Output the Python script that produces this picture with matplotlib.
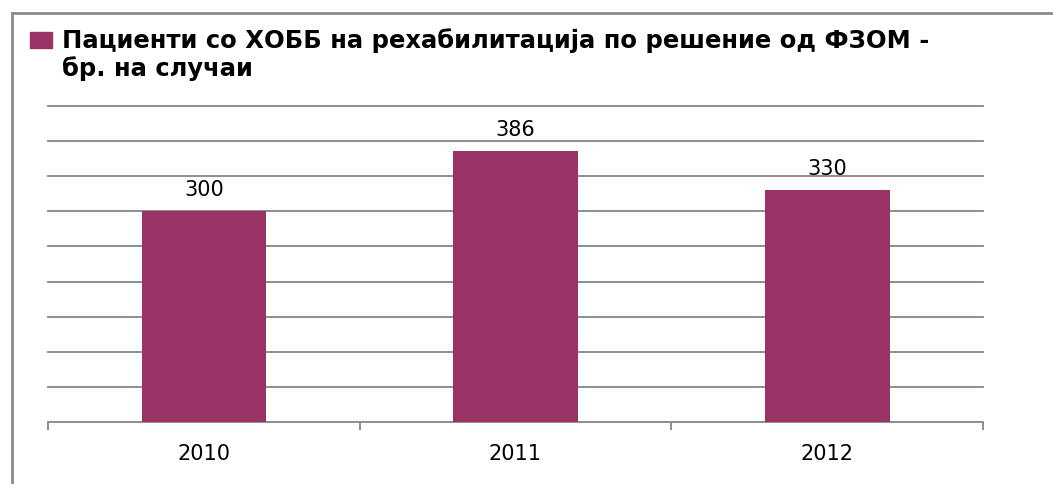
import matplotlib.pyplot as plt
from matplotlib.patches import Rectangle
from matplotlib.lines import Line2D

years = ["2010", "2011", "2012"]
cases = [300, 386, 330]
title_text = "Пациенти со ХОББ на рехабилитација по решение од ФЗОМ -\nбр. на случаи"

bar_color = "#993366"
grid_color = "#868686"

fig = plt.figure(figsize=(10.53, 4.84), dpi=100)
ax = fig.add_axes([48 / 1053, 62 / 484, 935 / 1053, 316 / 484])

x = list(range(len(years)))
bars = ax.bar(x, cases, width=0.4, color=bar_color, zorder=3)

ax.set_xlim(-0.5, len(years) - 0.5)
ax.set_ylim(0, 450)
ax.set_yticks(range(50, 451, 50))
ax.yaxis.grid(True, color=grid_color, linewidth=1.3, zorder=0)
for gl in ax.get_ygridlines():
    gl.set_clip_on(False)
ax.tick_params(axis="y", length=0, labelleft=False)

ax.set_xticks(x)
ax.set_xticklabels(years, fontsize=15)
ax.set_xticks([i - 0.5 for i in range(len(years) + 1)], minor=True)
ax.tick_params(axis="x", which="major", length=0, pad=16)
ax.tick_params(axis="x", which="minor", length=6, width=1.3, color=grid_color, direction="out")

for side in ["top", "right", "left"]:
    ax.spines[side].set_visible(False)
ax.spines["bottom"].set_color(grid_color)
ax.spines["bottom"].set_linewidth(1.3)

for xi, v in zip(x, cases):
    ax.annotate(str(v), (xi, v), xytext=(0, 8), textcoords="offset points",
                ha="center", va="bottom", fontsize=15)

# outer chart frame
fig.add_artist(Line2D([12 / 1053, 12 / 1053], [0, 1 - 13 / 484], transform=fig.transFigure,
                      color="#8c8c8c", linewidth=2))
fig.add_artist(Line2D([12 / 1053, 1], [1 - 13 / 484, 1 - 13 / 484], transform=fig.transFigure,
                      color="#8c8c8c", linewidth=2))

# legend key and title
fig.add_artist(Rectangle((30 / 1053, 1 - 48 / 484), 22 / 1053, 16 / 484,
                         transform=fig.transFigure, color=bar_color))
fig.text(62 / 1053, 1 - 28 / 484, title_text, ha="left", va="top",
         fontsize=17.5, fontweight="bold", linespacing=1.15)

fig.savefig("out.png", dpi=100)
